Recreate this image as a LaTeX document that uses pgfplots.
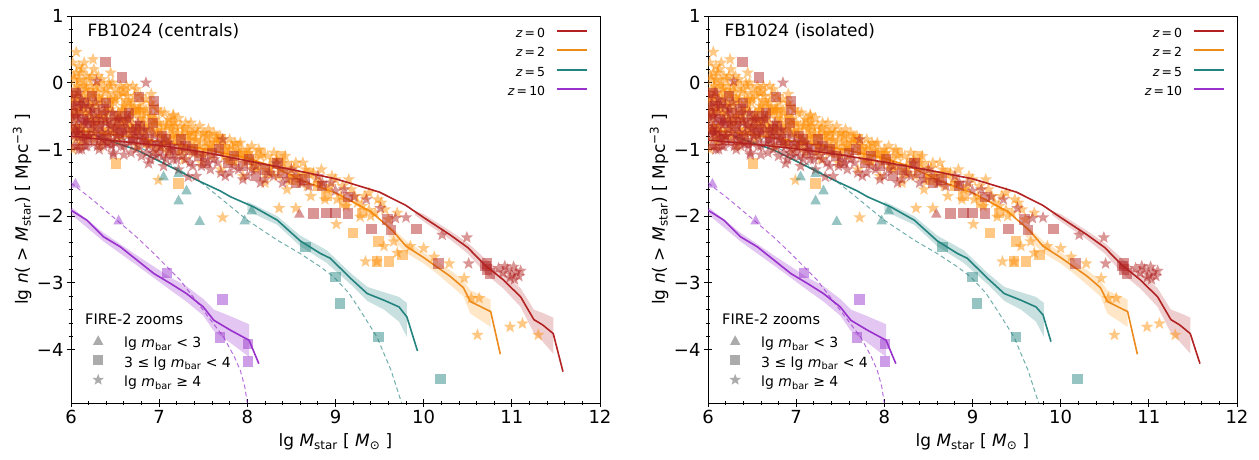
\documentclass[border=0pt]{standalone}
\usepackage{fontspec}
\setmainfont{DejaVu Sans}
\usepackage{pgfplots}
\usepackage{pgfplotstable}
\pgfplotsset{compat=1.18}

\definecolor{cz0}{HTML}{B22222}
\definecolor{cz2}{HTML}{FF8C00}
\definecolor{cz2l}{HTML}{EC8A1C}
\definecolor{cz5}{HTML}{23837F}
\definecolor{cz10}{HTML}{9932CC}

\pgfdeclareplotmark{fstar}{%
 \pgfpathmoveto{\pgfpointpolar{90}{\pgfplotmarksize}}%
 \pgfpathlineto{\pgfpointpolar{126}{0.42\pgfplotmarksize}}%
 \pgfpathlineto{\pgfpointpolar{162}{\pgfplotmarksize}}%
 \pgfpathlineto{\pgfpointpolar{198}{0.42\pgfplotmarksize}}%
 \pgfpathlineto{\pgfpointpolar{234}{\pgfplotmarksize}}%
 \pgfpathlineto{\pgfpointpolar{270}{0.42\pgfplotmarksize}}%
 \pgfpathlineto{\pgfpointpolar{306}{\pgfplotmarksize}}%
 \pgfpathlineto{\pgfpointpolar{342}{0.42\pgfplotmarksize}}%
 \pgfpathlineto{\pgfpointpolar{18}{\pgfplotmarksize}}%
 \pgfpathlineto{\pgfpointpolar{54}{0.42\pgfplotmarksize}}%
 \pgfpathclose\pgfusepathqfill}
\pgfdeclareplotmark{fsq}{%
 \pgfpathrectangle{\pgfpoint{-\pgfplotmarksize}{-\pgfplotmarksize}}{\pgfpoint{2\pgfplotmarksize}{2\pgfplotmarksize}}%
 \pgfusepathqfill}
\pgfdeclareplotmark{ftri}{%
 \pgfpathmoveto{\pgfpoint{0pt}{\pgfplotmarksize}}%
 \pgfpathlineto{\pgfpoint{-0.95\pgfplotmarksize}{-0.75\pgfplotmarksize}}%
 \pgfpathlineto{\pgfpoint{0.95\pgfplotmarksize}{-0.75\pgfplotmarksize}}%
 \pgfpathclose\pgfusepathqfill}

% ---------- lines ----------
\pgfplotstableread{
x y
6.00 -0.80
6.50 -0.87
7.00 -0.94
7.50 -1.04
8.00 -1.17
8.50 -1.30
9.00 -1.44
9.50 -1.64
9.80 -1.84
10.00 -2.02
10.30 -2.28
10.50 -2.47
10.70 -2.74
10.90 -2.95
11.10 -3.21
11.25 -3.55
11.35 -3.63
11.47 -3.76
11.58 -4.33
}\zzeroL
\pgfplotstableread{
x y
6.00 -0.86
6.50 -0.92
7.00 -0.99
7.50 -1.08
8.00 -1.19
8.50 -1.31
9.00 -1.44
9.50 -1.64
9.80 -1.84
10.00 -2.02
10.30 -2.28
10.50 -2.47
10.70 -2.74
10.90 -2.95
11.10 -3.21
11.25 -3.55
11.35 -3.63
11.47 -3.76
11.58 -4.21
}\zzeroR
\pgfplotstableread{
x y
6.00 -0.70
6.50 -0.78
7.00 -0.88
7.50 -0.99
8.00 -1.13
8.30 -1.26
8.60 -1.46
9.00 -1.65
9.40 -1.93
9.65 -2.22
9.80 -2.45
10.00 -2.62
10.15 -2.76
10.30 -2.90
10.45 -3.07
10.53 -3.28
10.76 -3.43
10.87 -4.07
}\ztwo
\pgfplotstableread{
x y
6.30 -0.80
6.40 -0.85
6.75 -1.01
7.13 -1.26
7.43 -1.46
7.69 -1.62
7.81 -1.71
8.07 -1.86
8.34 -2.06
8.60 -2.37
8.83 -2.56
8.94 -2.63
9.17 -2.93
9.36 -3.16
9.55 -3.26
9.72 -3.36
9.81 -3.51
9.93 -4.02
}\zfiveL
\pgfplotstableread{
x y
6.30 -0.80
6.40 -0.85
6.75 -1.01
7.13 -1.26
7.43 -1.46
7.69 -1.62
7.81 -1.71
8.07 -1.86
8.34 -2.06
8.60 -2.37
8.83 -2.56
8.94 -2.63
9.17 -2.93
9.36 -3.16
9.55 -3.26
9.72 -3.36
9.80 -3.48
9.89 -3.88
}\zfiveR
\pgfplotstableread{
x y
6.00 -1.91
6.18 -2.06
6.37 -2.31
6.56 -2.46
6.75 -2.66
6.94 -2.86
7.13 -3.01
7.31 -3.16
7.50 -3.36
7.62 -3.56
7.81 -3.71
8.02 -3.86
8.13 -4.21
}\zten
\pgfplotstableread{
x y
6.50 -0.78
7.00 -1.12
7.50 -1.52
8.00 -2.06
8.34 -2.36
8.60 -2.56
8.83 -2.76
8.98 -2.91
9.15 -3.15
9.28 -3.41
9.47 -3.81
9.63 -4.31
9.75 -4.80
}\dfive
\pgfplotstableread{
x y
6.00 -1.50
6.25 -1.76
6.52 -2.06
6.75 -2.32
6.94 -2.56
7.24 -2.96
7.50 -3.41
7.73 -3.81
7.85 -4.10
7.92 -4.31
7.97 -4.55
8.00 -4.80
}\dten
% ---------- bands ----------
\pgfplotstableread{
x y
9.90 -1.92
10.00 -1.97
10.30 -2.22
10.50 -2.40
10.70 -2.64
10.90 -2.85
11.10 -3.08
11.25 -3.40
11.35 -3.45
11.47 -3.52
11.47 -4.06
11.35 -3.88
11.25 -3.75
11.10 -3.36
10.90 -3.08
10.70 -2.86
10.50 -2.56
10.30 -2.35
10.00 -2.08
9.90 -1.98
}\bzero
\pgfplotstableread{
x y
9.60 -2.12
9.80 -2.37
10.00 -2.54
10.15 -2.68
10.30 -2.81
10.45 -2.96
10.53 -3.11
10.76 -3.25
10.76 -3.66
10.53 -3.46
10.45 -3.20
10.30 -3.03
10.15 -2.86
10.00 -2.71
9.80 -2.55
9.60 -2.30
}\btwo
\pgfplotstableread{
x y
8.00 -1.78
8.34 -2.00
8.60 -2.29
8.90 -2.51
9.17 -2.85
9.36 -3.06
9.55 -3.14
9.72 -3.21
9.81 -3.30
9.81 -3.81
9.72 -3.58
9.55 -3.40
9.36 -3.27
9.17 -3.02
8.90 -2.70
8.60 -2.45
8.34 -2.13
8.00 -1.92
}\bfive
\pgfplotstableread{
x y
6.00 -1.86
6.37 -2.25
6.75 -2.59
7.13 -2.92
7.31 -3.05
7.50 -3.24
7.62 -3.40
7.81 -3.50
8.02 -3.62
8.02 -4.11
7.81 -3.90
7.62 -3.72
7.50 -3.49
7.31 -3.28
7.13 -3.11
6.75 -2.74
6.37 -2.38
6.00 -1.97
}\bten
% ---------- FIRE-2 points ----------
\pgfplotstableread{
x y
6.02 0.30
6.04 -0.10
6.03 -0.55
6.06 0.15
6.05 -0.85
6.08 -0.30
6.10 0.05
6.12 -0.65
6.09 0.25
6.14 -0.20
6.01 -0.35
6.07 -0.05
6.11 -0.40
6.02 -1.00
6.10 -0.95
6.16 -0.45
6.18 0.10
6.20 -0.80
6.22 -0.05
6.24 -0.35
6.26 0.20
6.28 -0.60
6.30 -0.15
6.33 -0.95
6.35 0.05
6.37 -0.40
6.40 -0.10
6.42 -0.70
6.45 -0.25
6.47 0.00
6.50 -0.50
6.52 -0.85
6.55 -0.20
6.58 -0.60
6.60 -0.35
6.63 -0.05
6.66 -0.75
6.69 -0.45
6.72 -0.20
6.75 -0.95
6.78 -0.55
6.80 -0.30
6.83 -0.80
6.86 -0.45
6.90 -0.65
6.93 -0.35
6.96 -1.00
7.00 -0.60
7.03 -0.80
7.06 -0.45
7.10 -1.05
7.13 -0.70
7.16 -0.50
7.20 -0.90
7.24 -0.65
7.28 -1.15
7.32 -0.80
7.36 -0.60
7.40 -1.00
7.44 -0.75
7.48 -1.20
7.52 -0.90
7.56 -0.70
7.60 -1.10
7.65 -0.85
7.70 -1.30
7.75 -1.00
7.80 -0.85
7.85 -1.20
7.90 -1.05
7.95 -1.40
8.00 -1.15
8.05 -0.95
8.10 -1.30
8.15 -1.10
8.20 -1.50
8.25 -1.25
8.30 -1.05
8.35 -1.40
8.40 -1.20
8.45 -1.60
8.50 -1.35
8.55 -1.20
8.60 -1.50
8.66 -1.30
8.72 -1.70
8.78 -1.45
8.84 -1.30
8.90 -1.60
8.96 -1.40
9.02 -1.75
9.08 -1.55
9.15 -1.45
9.22 -1.70
9.30 -1.85
9.38 -1.65
9.45 -1.95
9.52 -1.80
9.60 -2.05
9.70 -1.95
6.01 -0.70
6.03 0.10
6.05 -0.45
6.07 -0.20
6.09 -0.80
6.11 0.15
6.13 -0.30
6.15 -0.05
6.17 -0.70
6.19 -0.25
6.21 0.05
6.23 -0.55
6.25 -0.15
6.27 -0.85
6.29 -0.35
6.31 0.10
6.34 -0.50
6.36 -0.25
6.39 -0.75
6.41 -0.45
6.44 -0.05
6.46 -0.60
6.49 -0.30
6.51 -0.10
6.54 -0.45
6.57 -0.80
6.59 -0.15
6.62 -0.55
6.65 -0.30
6.68 -0.65
6.71 -0.40
6.74 -0.10
6.77 -0.70
6.79 -0.40
6.82 -0.55
6.85 -0.25
6.88 -0.90
6.91 -0.50
6.94 -0.75
6.98 -0.40
7.01 -0.95
7.05 -0.65
7.08 -0.85
7.11 -0.55
7.15 -0.80
7.18 -0.65
7.22 -1.05
7.26 -0.80
7.30 -0.60
7.34 -0.95
7.38 -0.75
7.42 -0.85
7.46 -0.65
7.50 -1.05
7.54 -0.80
7.58 -0.95
7.62 -0.75
7.67 -1.00
7.72 -0.90
7.77 -1.15
7.82 -0.95
7.87 -1.05
7.92 -0.90
7.97 -1.20
8.02 -1.05
8.08 -1.15
8.13 -1.00
8.18 -1.25
8.23 -1.10
8.28 -1.35
8.33 -1.15
8.38 -1.30
8.43 -1.10
8.48 -1.45
8.53 -1.28
8.58 -1.40
8.63 -1.20
8.68 -1.55
8.75 -1.35
8.82 -1.50
8.88 -1.75
8.94 -1.55
9.00 -1.45
9.06 -1.70
9.12 -1.85
9.18 -1.60
9.25 -1.80
9.33 -1.70
9.40 -2.00
9.48 -1.75
9.56 -1.90
6.02 -0.25
6.04 0.05
6.06 -0.65
6.08 -0.40
6.10 -0.15
6.13 0.20
6.15 -0.75
6.17 -0.10
6.19 -0.50
6.21 -0.30
6.24 0.10
6.26 -0.65
6.28 -0.05
6.30 -0.45
6.32 -0.25
6.35 -0.70
6.38 -0.15
6.40 -0.55
6.43 0.00
6.45 -0.40
6.48 -0.75
6.50 -0.25
6.53 -0.55
6.56 -0.05
6.59 -0.40
6.61 -0.70
6.64 -0.20
6.67 -0.50
6.70 -0.30
6.73 -0.65
6.76 -0.40
6.79 -0.20
6.82 -0.60
6.85 -0.40
6.88 -0.70
6.91 -0.30
6.95 -0.55
6.98 -0.75
7.02 -0.45
7.05 -0.90
7.09 -0.65
7.13 -0.85
7.17 -0.60
7.21 -0.75
7.25 -0.95
7.29 -0.70
7.33 -0.85
7.37 -1.05
7.41 -0.70
7.46 -0.95
7.51 -0.75
7.57 -1.00
7.63 -0.90
7.69 -0.80
7.74 -1.10
7.80 -1.00
7.86 -0.90
7.93 -1.10
8.00 -1.00
8.07 -1.20
6.06 0.46
6.25 0.35
6.15 0.30
6.45 0.15
6.70 -0.05
6.91 -0.17
7.16 -0.48
7.22 -0.53
6.99 -1.46
7.72 -2.02
8.36 -1.88
8.55 -1.88
9.01 -2.12
9.28 -2.01
9.38 -1.91
9.66 -2.38
10.00 -2.48
9.34 -2.68
9.47 -2.68
9.55 -2.45
9.70 -2.55
9.85 -2.45
10.12 -2.61
10.29 -2.71
10.46 -2.93
10.54 -3.23
10.63 -3.23
10.61 -3.78
10.98 -3.66
11.12 -3.61
11.30 -3.78
}\ostars
\pgfplotstableread{
x y
6.02 -0.60
6.04 -0.95
6.05 -0.30
6.07 -0.75
6.09 -1.00
6.11 -0.45
6.13 -0.85
6.15 -0.60
6.18 -0.95
6.20 -0.35
6.23 -0.70
6.26 -0.90
6.29 -0.55
6.29 0.02
6.32 -1.00
6.35 -0.75
6.38 -0.45
6.41 -0.90
6.45 -0.65
6.48 -1.05
6.52 -0.80
6.56 -0.55
6.60 -0.95
6.64 -0.70
6.68 -1.05
6.72 -0.85
6.76 -0.60
6.80 -1.10
6.85 -0.90
6.90 -1.15
6.95 -0.80
7.00 -1.05
7.05 -1.25
7.10 -0.90
7.16 -1.15
7.22 -1.30
7.28 -1.00
7.35 -1.20
7.42 -1.40
7.50 -1.10
7.58 -1.30
7.66 -1.20
7.75 -1.40
7.85 -1.25
7.95 -1.45
8.05 -1.30
8.15 -1.50
8.25 -1.35
8.33 -1.21
8.45 -1.45
8.55 -1.40
8.70 -1.55
8.85 -1.50
9.00 -1.62
9.21 -1.71
9.51 -1.88
9.68 -2.03
9.80 -2.02
10.21 -2.28
10.49 -2.32
10.51 -2.71
6.85 0.00
7.72 -0.85
7.33 -1.41
6.48 -1.08
6.60 -1.08
6.88 -1.21
6.01 -0.20
6.03 -0.80
6.06 -0.50
6.08 -0.15
6.10 -0.70
6.12 -1.00
6.14 -0.35
6.17 -0.55
6.19 -0.80
6.22 -0.45
6.25 -0.60
6.28 -0.30
6.31 -0.80
6.34 -0.55
6.37 -0.95
6.40 -0.60
6.43 -0.80
6.47 -0.45
6.50 -0.90
6.54 -0.65
6.58 -0.85
6.62 -0.60
6.66 -0.90
6.70 -0.70
6.74 -1.00
6.78 -0.80
6.83 -0.70
6.88 -0.95
6.93 -1.05
6.98 -0.90
7.04 -1.10
7.12 -1.00
7.20 -1.15
7.30 -1.15
7.40 -1.05
7.48 -1.25
7.62 -1.15
7.70 -1.35
7.90 -1.30
8.10 -1.25
8.30 -1.40
8.50 -1.30
8.62 -1.50
8.80 -1.40
8.95 -1.50
9.10 -1.60
9.35 -1.75
6.01 -0.50
6.03 -0.35
6.05 -0.70
6.07 -0.95
6.09 -0.55
6.12 -0.25
6.14 -0.75
6.16 -0.95
6.19 -0.60
6.21 -0.80
6.24 -0.40
6.27 -0.75
6.30 -0.95
6.33 -0.65
6.36 -0.85
6.39 -0.55
6.42 -0.75
6.46 -0.95
6.49 -0.70
6.53 -0.55
6.57 -0.95
6.61 -0.75
6.65 -0.55
6.69 -0.85
6.73 -0.75
6.77 -0.95
6.81 -0.85
6.86 -1.05
6.91 -0.90
6.96 -1.10
7.02 -0.95
7.08 -1.15
7.14 -0.95
7.26 -1.10
7.38 -1.25
7.55 -1.20
7.80 -1.35
8.00 -1.40
8.20 -1.45
8.40 -1.50
10.85 -2.78
10.90 -2.85
10.95 -2.80
11.00 -2.88
11.02 -2.76
11.05 -2.84
11.08 -2.90
11.10 -2.82
10.98 -2.92
10.92 -2.75
11.03 -2.95
}\rstars
\pgfplotstableread{
x y
6.03 -0.20
6.08 -0.70
6.12 0.00
6.18 -0.40
6.24 -0.75
6.30 -0.25
6.36 -0.55
6.43 -0.35
6.50 -0.70
6.58 -0.45
6.66 -0.60
6.74 -0.40
6.82 -0.70
6.92 -0.55
7.02 -0.75
7.12 -0.60
7.22 -0.85
7.31 -0.71
7.42 -0.90
7.52 -0.80
7.62 -0.81
7.75 -1.00
7.88 -0.95
8.00 -1.10
8.15 -1.05
8.30 -1.20
8.45 -1.25
8.62 -1.40
8.80 -1.55
6.05 -0.45
6.14 -0.85
6.21 -0.15
6.27 -0.55
6.33 -0.05
6.39 -0.85
6.47 -0.20
6.55 -0.60
6.63 -0.30
6.71 -0.75
6.79 -0.45
6.87 -0.90
6.97 -0.65
7.07 -0.95
7.17 -0.75
7.27 -1.00
7.37 -0.80
7.47 -1.05
7.57 -0.95
7.70 -0.85
7.82 -1.15
7.95 -1.05
8.08 -1.25
8.22 -1.35
8.38 -1.10
8.52 -1.45
8.70 -1.35
8.90 -1.70
9.10 -1.80
9.30 -1.95
6.60 -0.12
6.51 -1.21
7.22 -1.51
9.20 -2.25
9.49 -2.38
9.47 -2.68
9.61 -2.68
9.76 -2.58
}\osq
\pgfplotstableread{
x y
6.02 -0.45
6.06 -0.15
6.10 -0.80
6.15 -0.30
6.20 -0.60
6.27 -0.45
6.34 -0.85
6.40 -0.30
6.46 -0.60
6.54 -0.75
6.62 -0.50
6.70 -0.85
6.78 -0.65
6.88 -0.75
6.98 -0.95
7.08 -0.85
7.18 -1.00
7.30 -0.95
7.45 -1.10
7.60 -1.05
7.78 -1.20
7.95 -1.25
8.10 -1.40
8.34 -1.21
8.55 -1.50
6.04 -0.70
6.08 -0.35
6.13 -0.55
6.18 -0.85
6.24 -0.20
6.31 -0.65
6.37 -0.40
6.44 -0.90
6.50 -0.50
6.58 -0.70
6.66 -0.45
6.74 -0.70
6.83 -0.85
6.93 -0.60
7.03 -0.80
7.13 -1.05
7.25 -0.85
7.38 -1.00
7.52 -1.20
7.68 -1.00
7.85 -1.10
8.02 -1.15
8.20 -1.30
8.40 -1.35
8.65 -1.45
8.85 -1.55
6.39 0.31
6.58 0.08
6.77 -0.21
6.94 -0.27
6.94 -0.41
8.75 -1.96
8.90 -1.95
9.00 -1.95
9.14 -1.96
9.14 -1.71
9.59 -2.05
9.41 -2.19
9.63 -2.21
9.92 -2.19
10.17 -2.71
10.72 -2.71
10.72 -2.80
10.75 -2.86
10.70 -2.75
}\rsq
\pgfplotstableread{
x y
8.59 -1.96
}\rtri
\pgfplotstableread{
x y
7.05 -1.40
7.22 -1.35
7.22 -1.76
7.31 -1.61
7.46 -2.07
7.97 -2.06
8.05 -1.91
}\ttri
\pgfplotstableread{
x y
8.66 -2.46
9.00 -2.91
9.05 -3.31
9.49 -3.81
10.19 -4.44
}\tsq
\pgfplotstableread{
x y
6.05 -1.51
6.54 -2.06
}\ptri
\pgfplotstableread{
x y
7.09 -2.85
7.72 -3.25
7.69 -3.82
8.01 -3.92
8.01 -4.18
}\psq

\pgfplotsset{
 panel/.style={
   width=529pt, height=387pt, scale only axis, anchor=south west,
   xmin=6, xmax=12, ymin=-4.8, ymax=1,
   xtick={6,7,8,9,10,11,12}, xticklabels={6,7,8,9,10,11,12},
   ytick={-4,-3,-2,-1,0,1}, yticklabels={−4,−3,−2,−1,0,1},
   minor x tick num=4, minor y tick num=4,
   xtick pos=bottom, ytick pos=left,
   tick align=center,
   major tick length=8pt, minor tick length=4.5pt,
   every tick/.style={black, line width=0.8pt},
   axis line style={line width=0.8pt},
   tick label style={font=\fontsize{18}{20}\selectfont},
   label style={font=\fontsize{17}{20}\selectfont},
   xlabel={lg \textit{M}\textsubscript{star} [ \textit{M}\textsubscript{⊙} ]},
   ylabel={lg \textit{n}( > \textit{M}\textsubscript{star}) [ Mpc\textsuperscript{−3} ]},
   xlabel style={at={(axis description cs:0.5,-0.1137)}, anchor=base},
   ylabel style={at={(axis description cs:-0.0813,0.5)}, anchor=base},
   clip marker paths=true,
 },
 ovl/.style={
   width=529pt, height=387pt, scale only axis, anchor=south west,
   xmin=6, xmax=12, ymin=-4.8, ymax=1, hide axis,
 },
 zleg/.style={
   legend style={draw=none, fill=none, at={(rel axis cs:1,1)}, anchor=north east,
     xshift=-12pt, yshift=-12pt, font=\fontsize{12.5}{15}\selectfont,
     row sep=8pt, column sep=11pt, inner sep=0pt,
     nodes={inner sep=0pt, text height=9pt, text depth=2.5pt}},
   legend cell align=right, legend plot pos=right,
 },
 fleg/.style={
   legend style={draw=none, fill=none, at={(rel axis cs:0,0)}, anchor=south west,
     xshift=17pt, yshift=13pt, font=\fontsize{14}{16}\selectfont,
     row sep=1pt, column sep=6pt, inner sep=0pt,
     nodes={inner sep=0pt, text height=10pt, text depth=3pt}},
   legend cell align=left,
 },
 sc/.style={only marks, mark size=#1, fill opacity=0.48, draw opacity=0},
}

\newcommand{\panel}[4]{%
\begin{axis}[panel, at={(#1,0pt)}]
\addplot[draw=none, fill=cz0, fill opacity=0.22] table {\bzero};
\addplot[draw=none, fill=cz2, fill opacity=0.22] table {\btwo};
\addplot[draw=none, fill=cz5, fill opacity=0.25] table {\bfive};
\addplot[draw=none, fill=cz10, fill opacity=0.28] table {\bten};
\addplot[cz5, opacity=0.65, line width=1pt, dash pattern=on 4.5pt off 3pt] table {\dfive};
\addplot[cz10, opacity=0.7, line width=1pt, dash pattern=on 4.5pt off 3pt] table {\dten};
\addplot[cz2l, line width=1.6pt] table {\ztwo};
\addplot[cz5, line width=1.6pt] table {#4};
\addplot[sc=6.5pt, cz2, mark=fstar] table {\ostars};
\addplot[sc=5.2pt, cz2, mark=fsq] table {\osq};
\addplot[sc=6.5pt, cz0, mark=fstar] table {\rstars};
\addplot[sc=5.2pt, cz0, mark=fsq] table {\rsq};
\addplot[sc=5.5pt, cz0, mark=ftri] table {\rtri};
\addplot[sc=5.5pt, cz5, mark=ftri] table {\ttri};
\addplot[sc=5.2pt, cz5, mark=fsq] table {\tsq};
\addplot[sc=5.5pt, cz10, mark=ftri] table {\ptri};
\addplot[sc=5.2pt, cz10, mark=fsq] table {\psq};
\addplot[cz0, line width=1.6pt] table {#3};
\addplot[cz10, line width=1.6pt] table {\zten};
\node[anchor=base west, inner sep=0pt, font=\fontsize{17}{20}\selectfont] at (rel axis cs:0.031,0.9465) {#2};
\node[anchor=base west, inner sep=0pt, font=\fontsize{14.5}{16}\selectfont] at (rel axis cs:0.0265,0.204) {FIRE-2 zooms};
\end{axis}
\begin{axis}[ovl, zleg, at={(#1,0pt)}]
\addlegendimage{legend image code/.code={\draw[cz0, line width=1.6pt] (0pt,3.2pt) -- (30pt,3.2pt);}}
\addlegendentry{\textit{z}\,=\,0}
\addlegendimage{legend image code/.code={\draw[cz2l, line width=1.6pt] (0pt,3.2pt) -- (30pt,3.2pt);}}
\addlegendentry{\textit{z}\,=\,2}
\addlegendimage{legend image code/.code={\draw[cz5, line width=1.6pt] (0pt,3.2pt) -- (30pt,3.2pt);}}
\addlegendentry{\textit{z}\,=\,5}
\addlegendimage{legend image code/.code={\draw[cz10, line width=1.6pt] (0pt,3.2pt) -- (30pt,3.2pt);}}
\addlegendentry{\textit{z}\,=\,10}
\end{axis}
\begin{axis}[ovl, fleg, at={(#1,0pt)}]
\addlegendimage{legend image code/.code={\path[draw=none] (0pt,-4pt) rectangle (30pt,12pt); \draw[draw=none, fill=black!33, only marks, mark=ftri, mark size=5.5pt] plot coordinates {(10pt,3.5pt)};}}
\addlegendentry{lg \textit{m}\textsubscript{bar} < 3}
\addlegendimage{legend image code/.code={\path[draw=none] (0pt,-4pt) rectangle (30pt,12pt); \draw[draw=none, fill=black!33, only marks, mark=fsq, mark size=4.8pt] plot coordinates {(10pt,3.5pt)};}}
\addlegendentry{3 ≤ lg \textit{m}\textsubscript{bar} < 4}
\addlegendimage{legend image code/.code={\path[draw=none] (0pt,-4pt) rectangle (30pt,12pt); \draw[draw=none, fill=black!33, only marks, mark=fstar, mark size=6pt] plot coordinates {(10pt,3.5pt)};}}
\addlegendentry{lg \textit{m}\textsubscript{bar} ≥ 4}
\end{axis}
}

\begin{document}
\begin{tikzpicture}
\path[use as bounding box] (-71pt,-57pt) rectangle (1188pt,403pt);
\panel{0pt}{FB1024 (centrals)}{\zzeroL}{\zfiveL}
\panel{637pt}{FB1024 (isolated)}{\zzeroR}{\zfiveR}
\end{tikzpicture}
\end{document}
